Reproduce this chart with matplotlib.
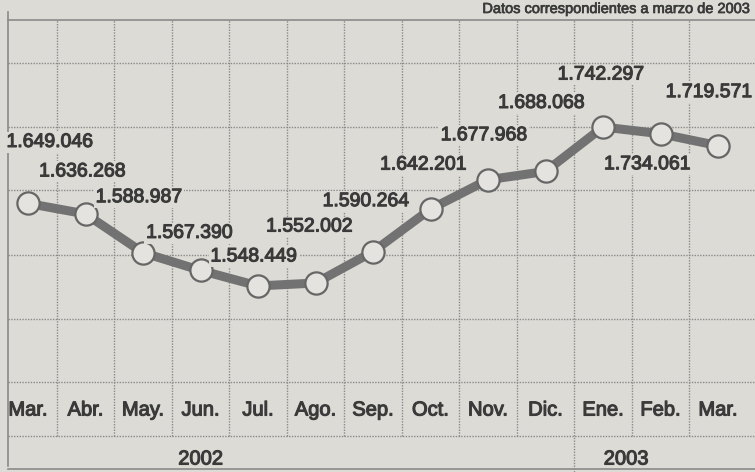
import matplotlib.pyplot as plt
import matplotlib.patheffects as pe
from matplotlib.transforms import blended_transform_factory

# Afiliados - datos de marzo 2002 a marzo 2003
meses = ["Mar.", "Abr.", "May.", "Jun.", "Jul.", "Ago.", "Sep.",
         "Oct.", "Nov.", "Dic.", "Ene.", "Feb.", "Mar."]
valores = [1649046, 1636268, 1588987, 1567390, 1548449, 1552002, 1590264,
           1642201, 1677968, 1688068, 1742297, 1734061, 1719571]
etiquetas = ["1.649.046", "1.636.268", "1.588.987", "1.567.390", "1.548.449",
             "1.552.002", "1.590.264", "1.642.201", "1.677.968", "1.688.068",
             "1.742.297", "1.734.061", "1.719.571"]
anios = ["2002", "2003"]

# offsets of the value labels from each point (pixels, up = +)
offsets = [(22, 61), (-3, 42), (-4, 55), (-11, 37), (-4, 29), (-6, 56), (-7, 50),
           (-7, 44), (-4, 44), (-4, 68), (-2, 52), (-13, -31), (-9, 53)]

FONDO = "#dcdbd6"
GRIS = "#727272"
TEXTO = "#3a3a3a"
FUENTE = ["Liberation Sans", "DejaVu Sans"]
grueso = [pe.withStroke(linewidth=0.8, foreground=TEXTO)]

W, H = 755, 472
fig = plt.figure(figsize=(W / 100, H / 100), dpi=100)
fig.patch.set_facecolor(FONDO)
ax = fig.add_axes([0, 0, 1, 1])
ax.set_facecolor(FONDO)
ax.axis("off")
ax.set_xlim(-0.487, 12.643)
ax.set_ylim(1321500, 1897200)


def fy(py):
    # pixel row -> axes fraction
    return 1 - py / H


def fx(px):
    return px / W


bl = blended_transform_factory(ax.transData, ax.transAxes)

# horizontal grid
for py in [63, 127, 190, 255, 319, 382, 436]:
    ax.plot([fx(8), 1], [fy(py), fy(py)], transform=ax.transAxes,
            color="#8a8a8a", lw=1, ls=(0, (1, 1)), zorder=1)
# frame
ax.plot([fx(8), 1], [fy(20), fy(20)], transform=ax.transAxes, color="#8a8a8a", lw=1.2, zorder=1)
ax.plot([fx(8), fx(8)], [fy(12), fy(466)], transform=ax.transAxes, color="#8a8a8a", lw=1.2, zorder=1)
ax.plot([fx(8), 1], [fy(469), fy(469)], transform=ax.transAxes, color="#8a8a8a", lw=1.2, zorder=1)

# vertical grid between months
for i in range(len(meses) - 1):
    bottom = fy(472) if i == 9 else fy(436)
    ax.plot([i + 0.5, i + 0.5], [bottom, fy(20)], transform=bl,
            color="#8a8a8a", lw=1, ls=(0, (1, 1)), zorder=1)

x = list(range(len(meses)))
ax.plot(x, valores, color=GRIS, lw=6.5, zorder=3, solid_capstyle="round")
ax.plot(x, valores, ls="none", marker="o", ms=16, mfc="#e4e3df", mec="#666666",
        mew=1.6, zorder=4)

for xi, v, txt, (dx, dy) in zip(x, valores, etiquetas, offsets):
    ax.annotate(txt, (xi, v), xytext=(dx * 0.72, dy * 0.72), textcoords="offset points",
                ha="center", va="center", fontsize=14, color=TEXTO, family=FUENTE,
                path_effects=grueso,
                bbox=dict(boxstyle="square,pad=0.1", fc=FONDO, ec="none"), zorder=5)

for xi, m in zip(x, meses):
    ax.text(xi, fy(410), m, transform=bl, ha="center", va="center",
            fontsize=14.5, color=TEXTO, family=FUENTE, path_effects=grueso, zorder=5)

ax.text(3.0, fy(459), anios[0], transform=bl, ha="center", va="center",
        fontsize=14.5, color=TEXTO, family=FUENTE, path_effects=grueso)
ax.text(10.4, fy(459), anios[1], transform=bl, ha="center", va="center",
        fontsize=14.5, color=TEXTO, family=FUENTE, path_effects=grueso)

ax.text(fx(752), fy(13), "Datos correspondientes a marzo de 2003", transform=ax.transAxes,
        ha="right", va="baseline", fontsize=10.5, color=TEXTO, family=FUENTE,
        path_effects=[pe.withStroke(linewidth=0.5, foreground=TEXTO)])

fig.savefig("out.png", dpi=100, facecolor=FONDO)
